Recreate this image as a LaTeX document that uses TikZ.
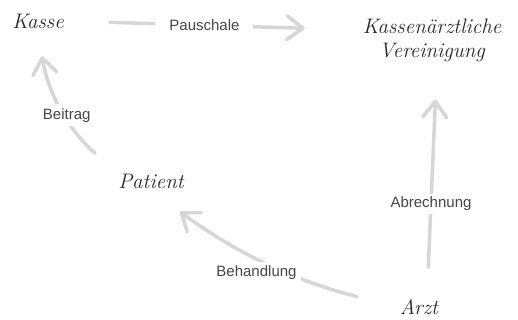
\documentclass[tikz,border=0pt]{standalone}
\usepackage{fontspec}
\newfontfamily\labelfont{Liberation Sans}
\usetikzlibrary{arrows.meta}
\definecolor{linegrey}{RGB}{214,214,214}
\definecolor{inkgrey}{RGB}{40,40,40}
\definecolor{labelgrey}{RGB}{70,70,70}
\begin{document}
\begin{tikzpicture}[x=1pt,y=-1pt,
  party/.style={text=inkgrey,font=\fontsize{21}{24}\selectfont\itshape,align=center,inner sep=2pt},
  flow/.style={draw=linegrey,line width=3.5pt,line cap=round,
    -{Straight Barb[length=16pt,width=24pt,round]}},
  money/.style={fill=white,text=labelgrey,font=\labelfont\fontsize{15}{18}\selectfont,inner sep=4pt}]
\useasboundingbox (0,0) rectangle (518,320);

% the four parties
\node[party] (kasse) at (38,21) {Kasse};
\node[party] (kv) at (432,40) {Kassenärztliche\\Vereinigung};
\node[party] (patient) at (151,181) {Patient};
\node[party] (arzt) at (419,307) {Arzt};

% who pays whom
\draw[flow,shorten <=44pt,shorten >=56pt] (kasse.east) -- ([yshift=10pt]kv.west)
  node[money,pos=0.47,inner xsep=14pt] {Pauschale};
\draw[flow,shorten <=28pt,shorten >=26pt] (patient.north west) to[bend left=20]
  node[money,pos=0.45] {Beitrag} (kasse.south);
\draw[flow,shorten <=42pt,shorten >=36pt] (arzt.west) to[bend left=11]
  node[money,pos=0.55,below=3pt] {Behandlung} (patient.south);
\draw[flow,shorten <=30pt,shorten >=36pt] ([xshift=8pt]arzt.north) --
  node[money,pos=0.4,inner ysep=3pt] {Abrechnung} ([xshift=5pt]kv.south);
\end{tikzpicture}
\end{document}
